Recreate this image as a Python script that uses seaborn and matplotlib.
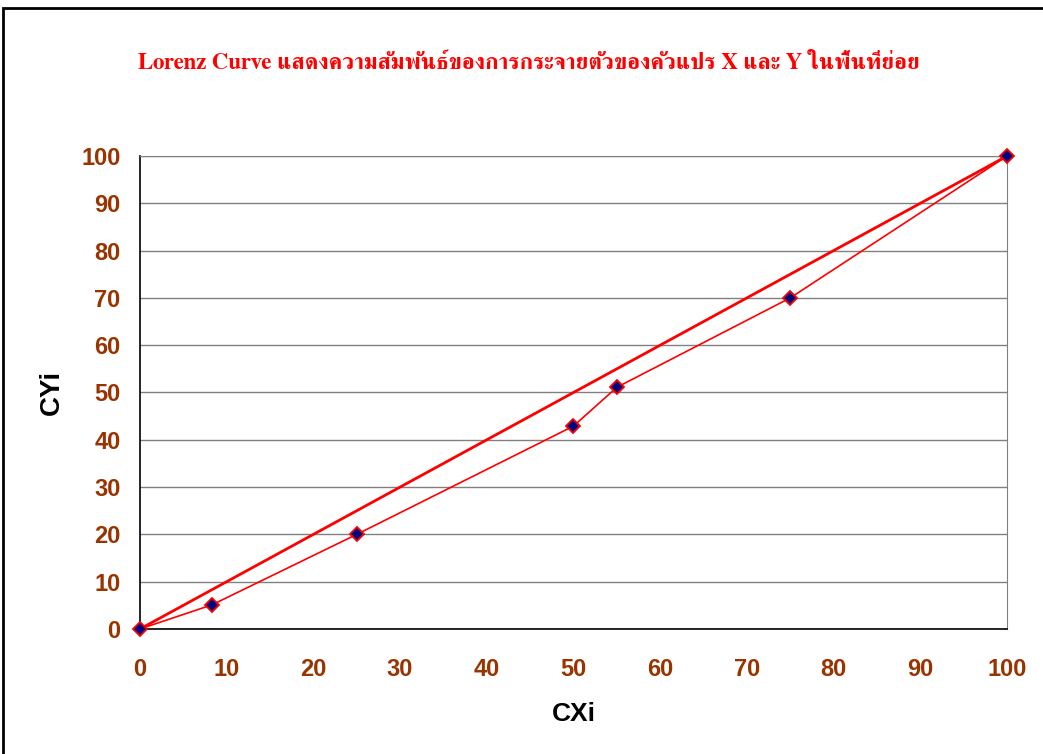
import pandas as pd
import seaborn as sns
import matplotlib.pyplot as plt
from matplotlib.patches import Rectangle

# cumulative shares
cxi = [0, 8.3, 25, 50, 55, 75, 100]
cyi = [0, 5.1, 20, 42.9, 51.1, 70, 100]
equal_x = [0, 100]
equal_y = [0, 100]

df = pd.DataFrame({'CXi': cxi, 'CYi': cyi})
eq = pd.DataFrame({'CXi': equal_x, 'CYi': equal_y})

sns.set_style('white')
fig = plt.figure(figsize=(10.43, 7.54), dpi=100)
ax = fig.add_axes([0.1342, 0.1658, 0.8313, 0.6273])

# line of equality
sns.lineplot(data=eq, x='CXi', y='CYi', color='red', linewidth=2, ax=ax, zorder=3)
# Lorenz curve
sns.lineplot(data=df, x='CXi', y='CYi', color='red', linewidth=1.2, marker='D',
             markersize=7, markerfacecolor='#000080', markeredgecolor='red',
             markeredgewidth=1.3, ax=ax, zorder=4, clip_on=False)

ax.set_xlim(0, 100)
ax.set_ylim(0, 100)
ax.set_xticks(range(0, 101, 10))
ax.set_yticks(range(0, 101, 10))
ax.yaxis.grid(True, color='#808080', linewidth=1)
ax.set_axisbelow(True)
for s in ['top', 'right']:
    ax.spines[s].set_color('#808080')
for s in ['left', 'bottom']:
    ax.spines[s].set_color('black')
    ax.spines[s].set_linewidth(1.2)
ax.tick_params(axis='x', length=0, pad=21, labelsize=17, labelcolor='#993300')
ax.tick_params(axis='y', length=6, width=1, color='#808080', pad=8, labelsize=17,
               labelcolor='#993300')
for lab in ax.get_xticklabels() + ax.get_yticklabels():
    lab.set_fontweight('bold')
    lab.set_family('Liberation Sans')
ax.set_xlabel('CXi', fontsize=19, fontweight='bold', family='Liberation Sans',
              color='black', labelpad=15)
ax.set_ylabel('CYi', fontsize=20, fontweight='bold', family='Liberation Sans',
              color='black', labelpad=12)

fig.text(0.507, 0.916, 'Lorenz Curve แสดงความสัมพันธ์ของการกระจายตัวของคัวแปร X และ Y ในพื้นที่ย่อย',
         ha='center', va='center', color='red', fontsize=16.5, fontweight='bold',
         family=['FreeSerif', 'Liberation Serif', 'DejaVu Sans'])

# chart area border, cut off at right and bottom
fig.patches.append(Rectangle((3 / 1043, -0.1), 1.2, 1.1 - 8 / 754, transform=fig.transFigure,
                             fill=False, edgecolor='black', linewidth=2))

fig.savefig('out.png', dpi=100)
